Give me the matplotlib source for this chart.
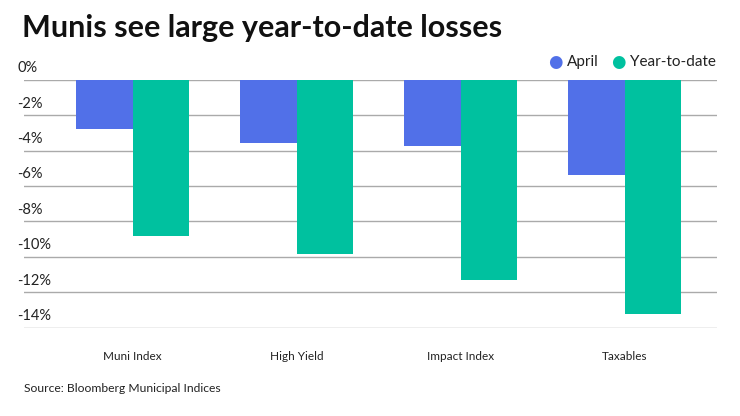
import matplotlib as mpl
import matplotlib.pyplot as plt
import numpy as np

mpl.rc('font', family='Lato')

categories = ['Muni Index', 'High Yield', 'Impact Index', 'Taxables']
april = [-2.8, -3.56, -3.73, -5.37]
ytd = [-8.83, -9.86, -11.28, -13.22]
series_names = ['April', 'Year-to-date']
colors = ['#5170E8', '#00C19F']
yticks = np.arange(0, -15, -2)

fig = plt.figure(figsize=(7.4, 4.16), dpi=100)
ax = fig.add_axes([24/740, 1-327.7/416, 692.7/740, 248/416])

x = np.arange(len(categories))
barWidth = 0.346
ax.bar(x - barWidth/2, april, width=barWidth, color=colors[0], zorder=2)
ax.bar(x + barWidth/2, ytd, width=barWidth, color=colors[1], zorder=2)

ax.set_xlim(-0.663, 3.561)
ax.set_ylim(-14, 0)
ax.set_yticks(yticks)
ax.set_yticklabels([])
for t in yticks:
    ax.axhline(t, color='#aaaaaa', lw=1, zorder=1)
    fig.text(17/740, 1-(79.7 + (-t)*17.71 - 11.5)/416, '%d%%' % t,
             fontsize=10.5, color='#222222', va='center', ha='left')

ax.set_xticks(x)
ax.set_xticklabels([])
for i, c in enumerate(categories):
    ax.text(x[i], -15.6, c, fontsize=8.5, ha='center', va='center', color='#222222')

ax.tick_params(length=0)
for s in ax.spines.values():
    s.set_visible(False)

fig.text(22/740, 1-37/416, 'Munis see large year-to-date losses', fontsize=22,
         fontweight='bold', va='baseline', ha='left', color='#111111')
fig.text(24/740, 1-389/416, 'Source: Bloomberg Municipal Indices', fontsize=8.75,
         va='center', ha='left', color='#222222')

# legend
fig.text(555/740, 1-62/416, '\u25cf', color=colors[0], fontsize=12, va='center', ha='center',
         family='DejaVu Sans')
fig.text(567/740, 1-62/416, series_names[0], fontsize=11, va='center', ha='left', color='#222222')
fig.text(618/740, 1-62/416, '\u25cf', color=colors[1], fontsize=12, va='center', ha='center',
         family='DejaVu Sans')
fig.text(630/740, 1-62/416, series_names[1], fontsize=11, va='center', ha='left', color='#222222')

plt.savefig('out.png', dpi=100)
